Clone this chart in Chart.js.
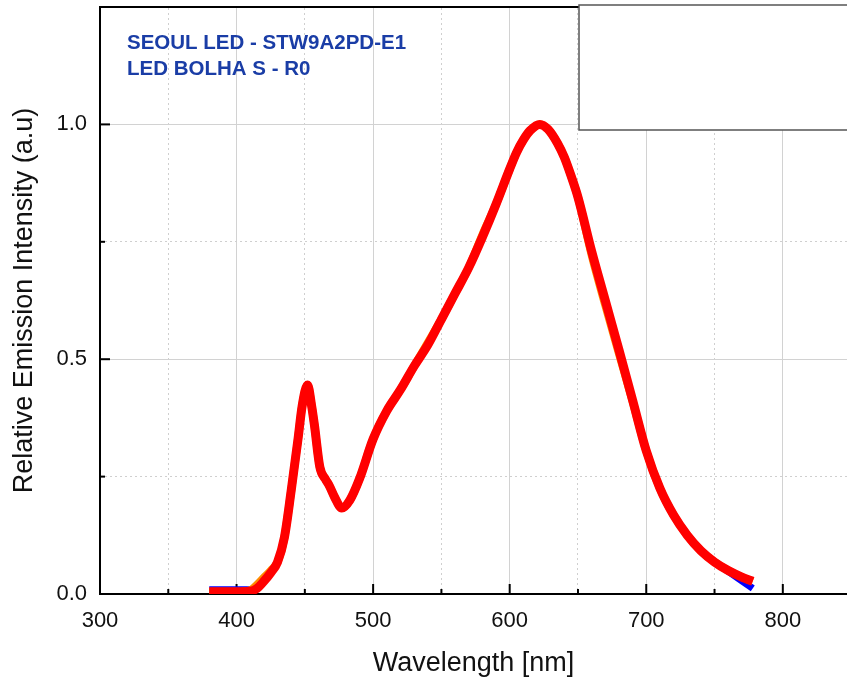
<!DOCTYPE html>
<html>
<head>
<meta charset="utf-8">
<script src="https://cdn.jsdelivr.net/npm/chart.js@4.4.0/dist/chart.umd.min.js"></script>
<style>
  html, body { margin: 0; padding: 0; background: #fff; }
  #wrap { width: 847px; height: 689px; }
</style>
</head>
<body>
<div id="wrap"><canvas id="spectrum" width="847" height="689"></canvas></div>
<script>
// Spectrum samples (wavelength in nm, relative intensity)
const wavelengths = [380, 390, 400, 410, 415, 420, 425, 430, 435, 440, 445, 448, 452, 455, 457, 461, 465, 468, 472, 477, 483, 490, 500, 510, 520, 530, 540, 550, 560, 570, 580, 590, 600, 605, 610, 615, 622, 628, 635, 640, 645, 650, 660, 670, 680, 690, 700, 710, 720, 730, 740, 750, 760, 770, 778];
const redValues = [0.005, 0.005, 0.005, 0.006, 0.012, 0.027, 0.045, 0.068, 0.12, 0.22, 0.33, 0.40, 0.445, 0.40, 0.36, 0.27, 0.245, 0.23, 0.205, 0.183, 0.20, 0.245, 0.33, 0.39, 0.435, 0.485, 0.53, 0.585, 0.64, 0.695, 0.76, 0.83, 0.905, 0.94, 0.967, 0.987, 1.0, 0.99, 0.96, 0.93, 0.89, 0.845, 0.73, 0.625, 0.52, 0.413, 0.305, 0.225, 0.168, 0.125, 0.092, 0.068, 0.05, 0.036, 0.027];
const blueValues = [0.009, 0.009, 0.009, 0.009, 0.012, 0.027, 0.045, 0.068, 0.12, 0.22, 0.33, 0.40, 0.445, 0.40, 0.36, 0.27, 0.245, 0.23, 0.205, 0.183, 0.20, 0.245, 0.33, 0.39, 0.435, 0.485, 0.53, 0.585, 0.64, 0.695, 0.76, 0.83, 0.905, 0.94, 0.967, 0.987, 1.0, 0.99, 0.96, 0.93, 0.89, 0.845, 0.73, 0.625, 0.52, 0.413, 0.305, 0.225, 0.168, 0.125, 0.092, 0.068, 0.048, 0.028, 0.012];
const orangeValues = [0.005, 0.005, 0.005, 0.008, 0.02, 0.035, 0.05, 0.068, 0.12, 0.22, 0.33, 0.40, 0.445, 0.40, 0.36, 0.27, 0.245, 0.23, 0.205, 0.183, 0.20, 0.245, 0.33, 0.39, 0.435, 0.485, 0.535, 0.585, 0.64, 0.695, 0.765, 0.83, 0.905, 0.94, 0.967, 0.987, 1.0, 0.99, 0.96, 0.93, 0.89, 0.845, 0.722, 0.615, 0.512, 0.41, 0.305, 0.225, 0.168, 0.125, 0.092, 0.068, 0.05, 0.036, 0.027];

// Axis ticks
const xMajorTicks = [300, 400, 500, 600, 700, 800];
const xMinorTicks = [350, 450, 550, 650, 750];
const yMajorTicks = [0, 0.5, 1.0];
const yMinorTicks = [0.25, 0.75];

// Annotation text
const noteLines = ['SEOUL LED - STW9A2PD-E1', 'LED BOLHA S - R0'];

const toPoints = (values) => wavelengths.map((w, i) => ({ x: w, y: values[i] }));
const setTicks = (list) => (scale) => { scale.ticks = list.map(v => ({ value: v })); };
// keep the plot frame where the original has it
const fixBox = (w, h) => (s) => {
    if (w !== null) s.width = w;
    if (h !== null) s.height = h;
    s.paddingTop = s.paddingBottom = s.paddingLeft = s.paddingRight = 0;
};

// Tick marks drawn on the inside of the frame
const innerTicks = {
    id: 'innerTicks',
    beforeDatasetsDraw(chart) {
        const { ctx, chartArea, scales } = chart;
        ctx.save();
        ctx.strokeStyle = '#000';
        ctx.lineWidth = 2;
        const mark = (scale, values, len) => {
            values.forEach(v => {
                const p = scale.getPixelForValue(v);
                ctx.beginPath();
                if (scale.isHorizontal()) {
                    ctx.moveTo(p, chartArea.bottom);
                    ctx.lineTo(p, chartArea.bottom - len);
                } else {
                    ctx.moveTo(chartArea.left, p);
                    ctx.lineTo(chartArea.left + len, p);
                }
                ctx.stroke();
            });
        };
        mark(scales.x, xMajorTicks, 10);
        mark(scales.x, xMinorTicks, 5);
        mark(scales.y, yMajorTicks, 10);
        mark(scales.y, yMinorTicks, 5);
        ctx.restore();
    }
};

// Empty legend frame and the blue note in the corner
const extras = {
    id: 'extras',
    afterDraw(chart) {
        const { ctx, chartArea } = chart;
        ctx.save();
        ctx.fillStyle = '#fff';
        ctx.strokeStyle = '#555';
        ctx.lineWidth = 1.5;
        ctx.fillRect(579, chartArea.top - 2, chartArea.right - 579 + 5, 125);
        ctx.strokeRect(579, chartArea.top - 2, chartArea.right - 579 + 5, 125);

        ctx.fillStyle = '#1a3da6';
        ctx.font = 'bold 20.5px "Liberation Sans", Arial, sans-serif';
        ctx.textBaseline = 'alphabetic';
        noteLines.forEach((t, i) => ctx.fillText(t, chartArea.left + 27, 49 + i * 26));
        ctx.restore();
    }
};

const font = '"Liberation Sans", Arial, sans-serif';

new Chart(document.getElementById('spectrum'), {
    type: 'line',
    data: {
        datasets: [
            { data: toPoints(redValues), borderColor: '#ff0000', borderWidth: 9 },
            { data: toPoints(orangeValues), borderColor: '#ff8c00', borderWidth: 8 },
            { data: toPoints(blueValues), borderColor: '#0000ff', borderWidth: 7 }
        ]
    },
    options: {
        responsive: false,
        animation: false,
        layout: { padding: { left: 0, right: 0, top: 7, bottom: 0 } },
        elements: {
            point: { radius: 0 },
            line: { cubicInterpolationMode: 'monotone', borderCapStyle: 'butt', borderJoinStyle: 'round' }
        },
        plugins: { legend: { display: false }, tooltip: { enabled: false } },
        scales: {
            x: {
                type: 'linear', min: 300, max: 847,
                afterBuildTicks: setTicks(xMajorTicks),
                afterFit: fixBox(null, 95),
                grid: { color: '#d2d2d2', lineWidth: 1, drawTicks: false },
                border: { color: '#000', width: 2 },
                ticks: { color: '#111', padding: 14, font: { family: font, size: 22 } },
                title: { display: true, text: 'Wavelength [nm]', color: '#111', font: { family: font, size: 27 }, padding: { top: 0, bottom: 9 } }
            },
            x2: {
                type: 'linear', position: 'top', min: 300, max: 847,
                afterBuildTicks: setTicks(xMinorTicks),
                afterFit: fixBox(null, 0),
                grid: { color: '#cfcfcf', lineWidth: 1, drawTicks: false },
                border: { color: '#000', width: 2, dash: [2, 3] },
                ticks: { display: false }
            },
            y: {
                type: 'linear', min: 0, max: 1.25,
                afterBuildTicks: setTicks(yMajorTicks),
                afterFit: fixBox(100, null),
                grid: { color: '#d2d2d2', lineWidth: 1, drawTicks: false },
                border: { color: '#000', width: 2 },
                ticks: { color: '#111', padding: 13, font: { family: font, size: 22 }, callback: (v) => v.toFixed(1) },
                title: { display: true, text: 'Relative Emission Intensity (a.u)', color: '#111', font: { family: font, size: 27 }, padding: { top: 8, bottom: 0 } }
            },
            y2: {
                type: 'linear', position: 'right', min: 0, max: 1.25,
                afterBuildTicks: setTicks(yMinorTicks),
                afterFit: fixBox(0, null),
                grid: { color: '#cfcfcf', lineWidth: 1, drawTicks: false },
                border: { display: false, dash: [2, 3] },
                ticks: { display: false }
            }
        }
    },
    plugins: [innerTicks, extras]
});
</script>
</body>
</html>
